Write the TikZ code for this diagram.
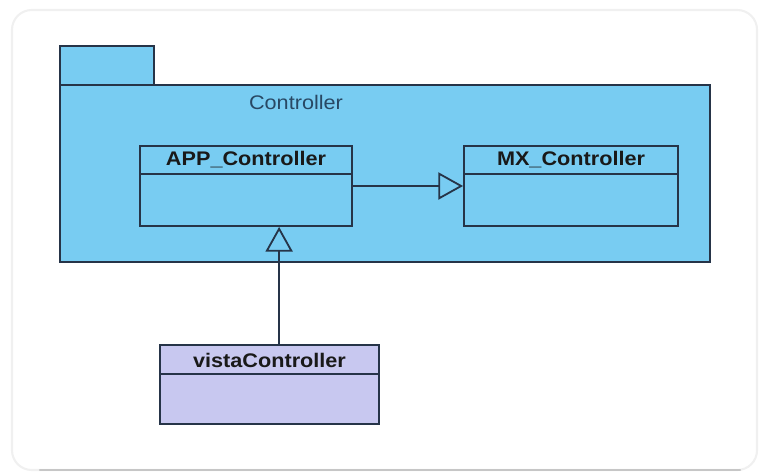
\documentclass[tikz,border=0pt]{standalone}
\usepackage{fontspec}
\usetikzlibrary{arrows.meta,positioning}
\newfontfamily\umlfont[FakeStretch=1.1]{Liberation Sans}
\definecolor{pkgblue}{RGB}{120,204,242}
\definecolor{clslilac}{RGB}{200,200,240}
\definecolor{umlline}{RGB}{38,52,72}
\definecolor{pkgtext}{RGB}{40,72,100}

\begin{document}
\begin{tikzpicture}[x=0.025cm,y=-0.025cm,
    umlbox/.style={draw=umlline,line width=1.3pt,minimum height=2cm,inner sep=0pt},
    clsname/.style={font=\umlfont\fontsize{14}{16}\selectfont\bfseries,text=black!90,inner sep=0pt},
    inherit/.style={draw=umlline,line width=1.3pt,-{Triangle[open,length=0.62cm,width=0.68cm,line width=1.3pt]}}]
    \useasboundingbox (0,0) rectangle (760,473);
    % Frame
    \draw[gray!12,line width=1.5pt,rounded corners=14pt] (12,10) rectangle (757,470);
    \draw[gray!45,line width=1.5pt,line cap=round] (40,470) -- (740,470);
    % Package
    \draw[fill=pkgblue,draw=umlline,line width=1.3pt] (60,46) rectangle (154,85);
    \draw[fill=pkgblue,draw=umlline,line width=1.3pt] (60,85) rectangle (710,262);
    \node[font=\umlfont\fontsize{14}{16}\selectfont,text=pkgtext] (pkgname) at (296,102) {Controller};
    % Classes
    \node[umlbox,fill=pkgblue,minimum width=5.3cm] (app) at (246,186) {};
    \node[umlbox,fill=pkgblue,minimum width=5.35cm] (mx) at (571,186) {};
    \node[umlbox,fill=clslilac,minimum width=5.475cm,minimum height=1.975cm] (vista) at (269.5,384.5) {};
    \node[clsname] (appname) at ([yshift=-0.36cm]app.north) {APP\_Controller};
    \node[clsname] (mxname) at ([yshift=-0.36cm]mx.north) {MX\_Controller};
    \node[clsname] (vistaname) at ([yshift=-0.42cm]vista.north) {vistaController};
    \draw[umlline,line width=1.3pt] ([yshift=-0.725cm]app.north west) -- ([yshift=-0.725cm]app.north east);
    \draw[umlline,line width=1.3pt] ([yshift=-0.725cm]mx.north west) -- ([yshift=-0.725cm]mx.north east);
    \draw[umlline,line width=1.3pt] ([yshift=-0.75cm]vista.north west) -- ([yshift=-0.75cm]vista.north east);
    % Generalizations
    \draw[inherit] (app.east) -- (mx.west);
    \draw[inherit] ([xshift=0.24cm]vista.north) -- ([xshift=0.24cm]vista.north |- app.south);
\end{tikzpicture}
\end{document}
